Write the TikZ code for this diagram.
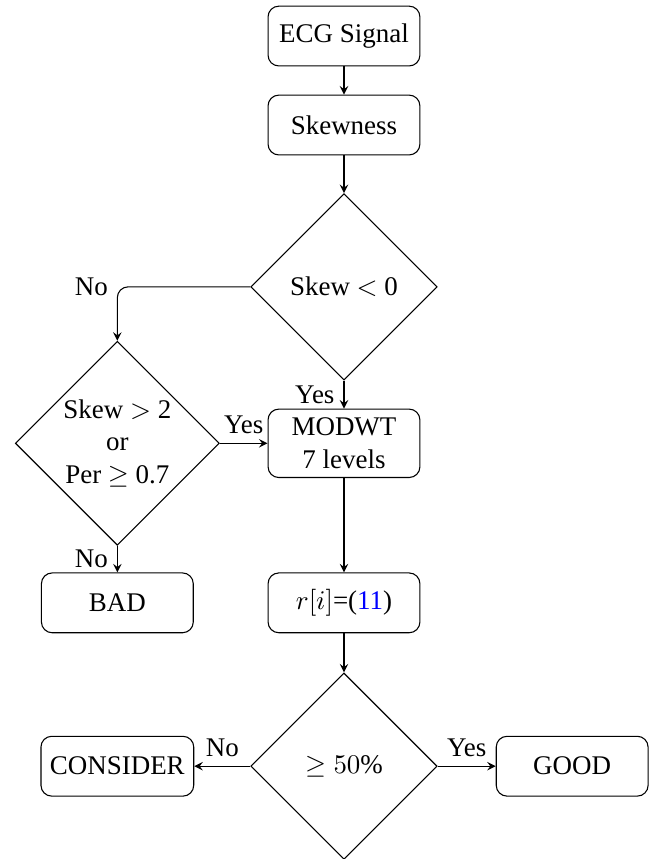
\documentclass[tikz,border=0pt]{standalone}
\usepackage{amssymb}
\usepackage{amsmath}
\usepackage{fontspec}
\setmainfont{Liberation Serif}
\usepackage{tikz}
\usetikzlibrary{shapes.geometric}

\begin{document}
\begin{tikzpicture}[>=stealth,
        blockbox/.style={draw,rounded corners,minimum width=1.98cm,minimum height=0.78cm,align=center},
        decision/.style={draw,diamond,aspect=1,inner sep=0pt,align=center}]
        \useasboundingbox (0,0) rectangle (8.54,-11.2);
        \node[blockbox] (ecg) at (4.485,-0.47) {ECG Signal};
        \node[blockbox] (skew) at (4.485,-1.63) {Skewness};
        \node[decision,minimum size=2.43cm] (dec1) at (4.485,-3.74) {Skew $<$ 0};
        \node[decision,minimum size=2.66cm] (dec2) at (1.53,-5.78) {Skew $>$ 2\\or\\Per $\geq$ 0.7};
        \node[blockbox] (modwt) at (4.485,-5.78) {MODWT\\7 levels};
        \node[blockbox] (bad) at (1.53,-7.86) {BAD};
        \node[blockbox] (ri) at (4.485,-7.86) {$r[i]$=(\textcolor{blue}{11})};
        \node[decision,minimum size=2.43cm] (dec3) at (4.485,-9.99) {$\geq 50\%$};
        \node[blockbox] (consider) at (1.53,-9.99) {CONSIDER};
        \node[blockbox] (good) at (7.46,-9.99) {GOOD};
        \foreach \a/\b in {ecg/skew, skew/dec1, modwt/ri, ri/dec3}
            \draw[->] (\a) -- (\b);
        \draw[->,rounded corners] (dec1.west) -| node[left] {No} (dec2.north);
        \draw[->] (dec1) -- node[left] {Yes} (modwt);
        \draw[->] (dec2) -- node[above] {Yes} (modwt);
        \draw[->] (dec2) -- node[left] {No} (bad);
        \draw[->] (dec3) -- node[above] {No} (consider);
        \draw[->] (dec3) -- node[above] {Yes} (good);
    \end{tikzpicture}
\end{document}
